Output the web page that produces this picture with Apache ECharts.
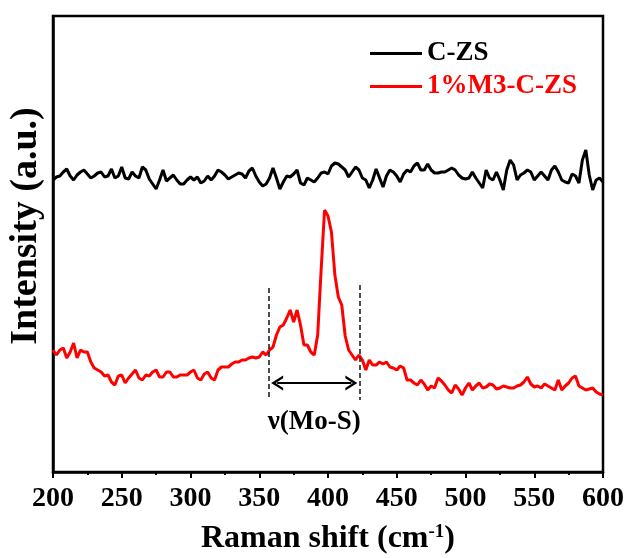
<!DOCTYPE html>
<html>
<head>
<meta charset="utf-8">
<script src="https://cdn.jsdelivr.net/npm/echarts@6/dist/echarts.min.js"></script>
<style>
  html, body { margin: 0; padding: 0; background: #fff; }
</style>
</head>
<body>
<div id="main" style="width: 625px; height: 558px"></div>
<script>
// Raman shift grid: 200 -> 600 cm-1, one reading every 2.5 cm-1
const shiftStart = 200;
const shiftStep = 2.5;

// C-ZS (a.u.)
const czs = [
  292, 295, 296, 300, 303, 296, 292, 297, 300, 302,
  298, 294, 296, 299, 300, 295, 296, 303, 294, 296,
  305, 294, 293, 300, 296, 294, 305, 302, 293, 288,
  283, 292, 302, 291, 294, 297, 292, 288, 288, 292,
  295, 292, 295, 289, 291, 296, 292, 296, 302, 300,
  297, 293, 295, 297, 299, 298, 294, 301, 304, 296,
  290, 286, 288, 294, 304, 294, 283, 290, 296, 295,
  298, 302, 289, 287, 294, 292, 290, 294, 299, 300,
  298, 306, 309, 308, 305, 302, 295, 300, 305, 302,
  294, 292, 284, 292, 303, 294, 285, 296, 302, 300,
  296, 290, 298, 302, 300, 306, 309, 302, 302, 308,
  302, 299, 299, 300, 300, 302, 304, 302, 297, 294,
  293, 294, 300, 294, 289, 284, 302, 294, 292, 300,
  292, 282, 302, 312, 307, 292, 297, 299, 302, 300,
  292, 296, 300, 296, 292, 302, 306, 300, 292, 290,
  289, 298, 296, 289, 312, 322, 297, 282, 292, 294,
  290
];

// 1%M3-C-ZS
const m3czs = [
  122, 117, 122, 124, 114, 120, 129, 114, 122, 120,
  120, 110, 104, 102, 100, 96, 97, 90, 87, 96,
  97, 89, 94, 98, 102, 94, 92, 97, 96, 100,
  102, 95, 95, 100, 100, 95, 95, 97, 97, 97,
  100, 102, 94, 92, 98, 100, 94, 92, 102, 105,
  105, 105, 108, 110, 110, 112, 112, 114, 115, 114,
  115, 120, 117, 122, 125, 137, 145, 147, 154, 162,
  150, 162, 147, 127, 127, 120, 117, 137, 202, 262,
  256, 240, 197, 175, 167, 136, 122, 117, 112, 117,
  112, 102, 112, 107, 107, 110, 108, 110, 105, 104,
  102, 106, 104, 92, 92, 89, 87, 92, 88, 82,
  86, 84, 94, 91, 87, 82, 79, 87, 83, 77,
  84, 89, 82, 86, 89, 84, 85, 88, 87, 83,
  84, 86, 85, 84, 84, 86, 87, 90, 95, 88,
  85, 86, 84, 88, 86, 84, 82, 92, 82, 86,
  89, 94, 96, 86, 84, 82, 83, 84, 80, 78,
  77
];

// Mo-S band marker
const bandEdges = [357, 423];
const bandTop = [184, 187];
const bandBottom = [74, 72];
const arrowEnds = [363, 417];
const arrowLevel = 89;
const bandLabel = "ν(Mo-S)";
const bandLabelAt = [390, 50];

const seriesNames = ["C-ZS", "1%M3-C-ZS"];

const toPairs = (arr) => arr.map((v, i) => [shiftStart + i * shiftStep, v]);

const font = "'Liberation Serif', 'Times New Roman', serif";
// open arrow head, tip pointing up (echarts rotates it along the line)
const chevron = "path://M10,0 L20,12 L16.5,12 L10,4.5 L3.5,12 L0,12 Z";

let myChart = echarts.init(document.getElementById("main"));
let option = {
  animation: false,
  grid: {
    left: 53,
    right: 22,
    top: 16,
    bottom: 86,
    outerBoundsMode: "none",
    show: true,
    borderColor: "#000",
    borderWidth: 2.5,
  },
  legend: {
    orient: "vertical",
    left: 365,
    top: 35,
    itemWidth: 52,
    itemHeight: 3,
    itemGap: 6,
    icon: "rect",
    textStyle: { fontFamily: font, fontWeight: "bold", fontSize: 27 },
    data: [
      { name: seriesNames[0], textStyle: { color: "#000" } },
      { name: seriesNames[1], textStyle: { color: "#ff0000" } },
    ],
  },
  xAxis: {
    type: "value",
    min: 200,
    max: 600,
    interval: 50,
    name: "Raman shift (cm{sup|-1})",
    nameLocation: "middle",
    nameGap: 51,
    nameTextStyle: {
      fontFamily: font,
      fontWeight: "bold",
      fontSize: 32,
      color: "#000",
      rich: {
        sup: { fontFamily: font, fontWeight: "bold", fontSize: 19, verticalAlign: "top", padding: [0, 0, 12, 0] },
      },
    },
    axisLine: { lineStyle: { color: "#000", width: 2.5 } },
    axisTick: { length: 6, lineStyle: { width: 2 } },
    minorTick: { show: true, splitNumber: 2, length: 3, lineStyle: { color: "#000", width: 2 } },
    axisLabel: {
      margin: 13,
      fontFamily: font,
      fontWeight: "bold",
      fontSize: 28,
      color: "#000",
    },
    splitLine: { show: false },
  },
  yAxis: {
    type: "value",
    min: 0,
    max: 456,
    name: "Intensity (a.u.)",
    nameLocation: "middle",
    nameGap: 8,
    nameTextStyle: {
      fontFamily: font,
      fontWeight: "bold",
      fontSize: 38,
      color: "#000",
      padding: [0, 0, 0, 36],
    },
    axisLine: { show: true, lineStyle: { color: "#000", width: 2.5 } },
    axisTick: { show: false },
    axisLabel: { show: false },
    splitLine: { show: false },
  },
  series: [
    {
      name: seriesNames[0],
      type: "line",
      data: toPairs(czs),
      symbol: "none",
      color: "#000",
      lineStyle: { width: 3, color: "#000" },
      markLine: {
        silent: true,
        symbol: [chevron, chevron],
        symbolSize: [15, 12],
        label: { show: false },
        lineStyle: { color: "#000", type: "solid", width: 2.2 },
        data: [[{ coord: [arrowEnds[0], arrowLevel] }, { coord: [arrowEnds[1], arrowLevel] }]],
      },
      markPoint: {
        silent: true,
        symbol: "circle",
        symbolSize: 0,
        label: {
          show: true,
          formatter: bandLabel,
          fontFamily: font,
          fontWeight: "bold",
          fontSize: 27,
          color: "#000",
        },
        data: [{ coord: bandLabelAt }],
      },
    },
    {
      name: seriesNames[1],
      type: "line",
      data: toPairs(m3czs),
      symbol: "none",
      color: "#ff0000",
      lineStyle: { width: 3, color: "#ff0000" },
      markLine: {
        silent: true,
        symbol: ["none", "none"],
        label: { show: false },
        lineStyle: { color: "#222", type: [5, 3], width: 1.6 },
        data: [
          [{ coord: [bandEdges[0], bandTop[0]] }, { coord: [bandEdges[0], bandBottom[0]] }],
          [{ coord: [bandEdges[1], bandTop[1]] }, { coord: [bandEdges[1], bandBottom[1]] }],
        ],
      },
    },
  ],
};
myChart.setOption(option);
</script>
</body>
</html>
